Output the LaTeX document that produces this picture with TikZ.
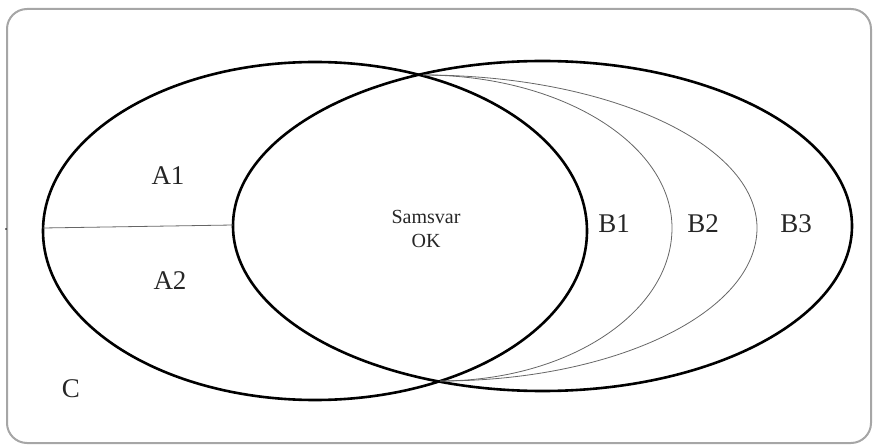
\documentclass[tikz,border=0pt]{standalone}
\usepackage{fontspec}
\setmainfont{Liberation Serif}

\begin{document}
\begin{tikzpicture}[x=1pt,y=1pt,
	rim/.style={line width=2.6pt},
	part/.style={line width=0.8pt,gray!80!black},
	lbl/.style={inner sep=0pt,anchor=base,text=black!85,font=\fontsize{27}{32}\selectfont}]

	\useasboundingbox (0,0) rectangle (873,445);
	\draw[line width=2pt,gray!70,rounded corners=20pt] (7,2) rectangle (871,436);

	\draw[rim] (315,214) ellipse [x radius=272,y radius=169];
	\draw[rim] (542.5,219) ellipse [x radius=309.5,y radius=165];

	\coordinate (top) at (423,370);
	\draw[part] (top) arc [start angle=90,end angle=0,x radius=249,y radius=153]
		arc [start angle=0,end angle=-90,x radius=232,y radius=153];
	\draw[part] (top) arc [start angle=90,end angle=0,x radius=334,y radius=153]
		arc [start angle=0,end angle=-90,x radius=317,y radius=153];

	\coordinate (aw) at (43,217);
	\coordinate (ae) at (233,220);
	\draw[part] (aw) -- (ae);
	\fill (6,216) circle (0.9pt);

	\node[lbl] (a1) at (168,260) {A1};
	\node[lbl] (a2) at (170,156) {A2};
	\node[lbl] (c) at (71,48) {C};
	\node[lbl] (b1) at (614,212) {B1};
	\node[lbl] (b2) at (703,212) {B2};
	\node[lbl] (b3) at (796,212) {B3};
	\node[inner sep=0pt,align=center,text=black!85,font=\fontsize{20}{24}\selectfont] (ok) at (426,216.5) {Samsvar\\OK};

\end{tikzpicture}
\end{document}
